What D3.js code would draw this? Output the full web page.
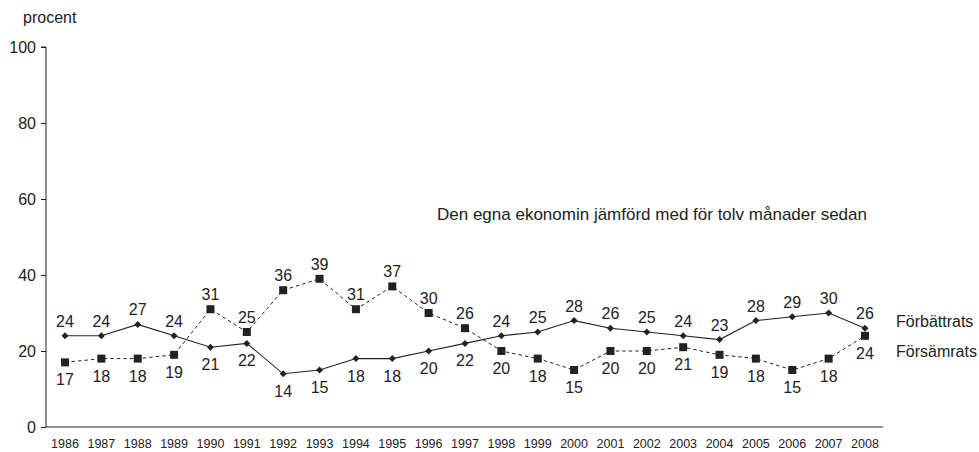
<!DOCTYPE html>
<html>
<head>
<meta charset="utf-8">
<script src="https://cdn.jsdelivr.net/npm/d3@7"></script>
<style>
  body { margin: 0; background: #fff; }
  svg text { font-family: "Liberation Sans", Arial, sans-serif; fill: #222; }
</style>
</head>
<body>
<div id="chart"></div>
<script>
// chart data
const years = [1986, 1987, 1988, 1989, 1990, 1991, 1992, 1993, 1994, 1995, 1996, 1997,
  1998, 1999, 2000, 2001, 2002, 2003, 2004, 2005, 2006, 2007, 2008];
const forbattrats = [24, 24, 27, 24, 21, 22, 14, 15, 18, 18, 20, 22,
  24, 25, 28, 26, 25, 24, 23, 28, 29, 30, 26];
const forsamrats = [17, 18, 18, 19, 31, 25, 36, 39, 31, 37, 30, 26,
  20, 18, 15, 20, 20, 21, 19, 18, 15, 18, 24];
const yTicks = [0, 20, 40, 60, 80, 100];
const seriesNames = ["Förbättrats", "Försämrats"];
const note = "Den egna ekonomin jämförd med för tolv månader sedan";

const width = 979, height = 452;
const ink = "#222";

const svg = d3.select("#chart").append("svg")
  .attr("width", width)
  .attr("height", height);

const x = d3.scalePoint()
  .domain(years)
  .range([65, 865]);

const y = d3.scaleLinear()
  .domain([0, 100])
  .range([427, 47]);

// y axis
const yAxis = svg.append("g")
  .attr("transform", "translate(46,0)")
  .call(d3.axisLeft(y).tickValues(yTicks).tickSize(5).tickPadding(5));
yAxis.select(".domain").attr("stroke", ink).attr("d", `M-5,${y(100)}H0V${y(0)}`);
yAxis.selectAll(".tick line").attr("stroke", ink);
yAxis.selectAll(".tick text")
  .style("font-size", "16px")
  .attr("fill", ink);

// x axis baseline and year labels
svg.append("line")
  .attr("x1", 46).attr("x2", 883)
  .attr("y1", y(0)).attr("y2", y(0))
  .attr("stroke", ink);

svg.append("g").selectAll("text")
  .data(years)
  .join("text")
  .attr("x", d => x(d))
  .attr("y", 448)
  .attr("text-anchor", "middle")
  .style("font-size", "12.5px")
  .text(d => d);

svg.append("text")
  .attr("x", 23).attr("y", 23)
  .style("font-size", "16px")
  .text("procent");

const line = d3.line()
  .x((d, i) => x(years[i]))
  .y(d => y(d));

svg.append("path")
  .datum(forsamrats)
  .attr("d", line)
  .attr("fill", "none")
  .attr("stroke", ink)
  .attr("stroke-width", 1)
  .attr("stroke-dasharray", "3.5,3");

svg.append("path")
  .datum(forbattrats)
  .attr("d", line)
  .attr("fill", "none")
  .attr("stroke", ink)
  .attr("stroke-width", 1.1);

// markers
svg.append("g").selectAll("rect")
  .data(forsamrats)
  .join("rect")
  .attr("x", (d, i) => x(years[i]) - 4)
  .attr("y", d => y(d) - 4)
  .attr("width", 8)
  .attr("height", 8)
  .attr("fill", ink);

svg.append("g").selectAll("path")
  .data(forbattrats)
  .join("path")
  .attr("transform", (d, i) => `translate(${x(years[i])},${y(d)})`)
  .attr("d", "M0,-3.5L3.5,0L0,3.5L-3.5,0Z")
  .attr("fill", ink);

// value labels: higher series above, lower below
function addLabels(values, other) {
  svg.append("g").selectAll("text")
    .data(values)
    .join("text")
    .attr("x", (d, i) => x(years[i]))
    .attr("y", (d, i) => d >= other[i] ? y(d) - 9 : y(d) + 23)
    .attr("text-anchor", "middle")
    .style("font-size", "16px")
    .text(d => d);
}
addLabels(forbattrats, forsamrats);
addLabels(forsamrats, forbattrats);

// series names at right
svg.append("text")
  .attr("x", 896).attr("y", 327)
  .style("font-size", "16px")
  .text(seriesNames[0]);
svg.append("text")
  .attr("x", 896).attr("y", 357)
  .style("font-size", "16px")
  .text(seriesNames[1]);

svg.append("text")
  .attr("x", 437).attr("y", 220)
  .style("font-size", "17px")
  .text(note);
</script>
</body>
</html>
